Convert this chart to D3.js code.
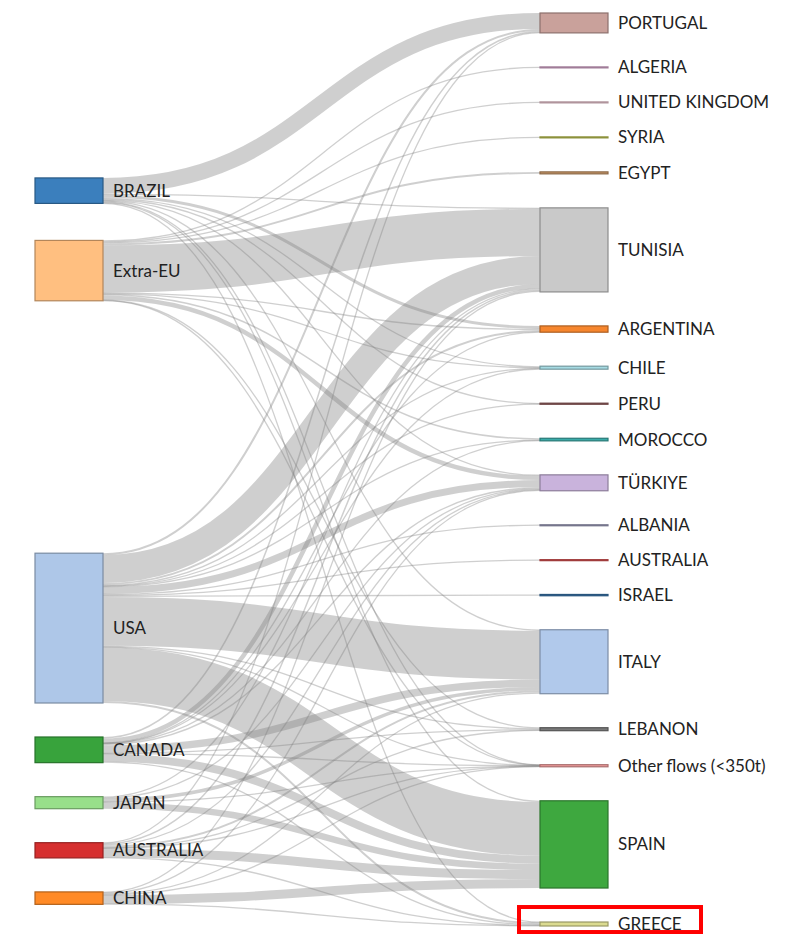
<!DOCTYPE html>
<html>
<head>
<meta charset="utf-8">
<script src="https://cdn.jsdelivr.net/npm/d3@7"></script>
<style>
  body { margin: 0; background: #fff; }
  svg text { font-family: Lato, "Open Sans", "DejaVu Sans", sans-serif; }
</style>
</head>
<body>
<svg id="chart" width="800" height="934"></svg>
<script>
// ---------- DATA ----------
const sources = ["BRAZIL", "Extra-EU", "USA", "CANADA", "JAPAN", "AUSTRALIA", "CHINA"];
const targets = ["PORTUGAL", "ALGERIA", "UNITED KINGDOM", "SYRIA", "EGYPT", "TUNISIA", "ARGENTINA",
  "CHILE", "PERU", "MOROCCO", "TÜRKIYE", "ALBANIA", "AUSTRALIA", "ISRAEL", "ITALY", "LEBANON",
  "Other flows (<350t)", "SPAIN", "GREECE"];

const sourceColors = ["#3b7fbd", "#ffbf80", "#aec7e8", "#38a33c", "#98df8a", "#d62f2f", "#ff8a26"];
const targetColors = ["#c9a19b", "#e5b1d9", "#fbd3df", "#c8cf56", "#c89667", "#c9c9c9", "#f6862e",
  "#a6dbe3", "#9d6464", "#39aba9", "#c9b3dc", "#a9a9c8", "#e55656", "#3979b3", "#b1c9eb", "#797979",
  "#f39d9d", "#3ea83f", "#dbdb90"];

// [source, target, tonnes]
const flows = [
  ["BRAZIL", "PORTUGAL", 16000], ["BRAZIL", "TUNISIA", 1000], ["BRAZIL", "ARGENTINA", 3000],
  ["BRAZIL", "CHILE", 1300], ["BRAZIL", "PERU", 800], ["BRAZIL", "TÜRKIYE", 800],
  ["BRAZIL", "ITALY", 1000], ["BRAZIL", "Other flows (<350t)", 300], ["BRAZIL", "SPAIN", 1200],
  ["BRAZIL", "GREECE", 200],

  ["Extra-EU", "ALGERIA", 1000], ["Extra-EU", "UNITED KINGDOM", 1000], ["Extra-EU", "SYRIA", 1000],
  ["Extra-EU", "EGYPT", 2000], ["Extra-EU", "TUNISIA", 47500], ["Extra-EU", "ARGENTINA", 1000],
  ["Extra-EU", "CHILE", 400], ["Extra-EU", "MOROCCO", 1500], ["Extra-EU", "TÜRKIYE", 4500],
  ["Extra-EU", "LEBANON", 500], ["Extra-EU", "Other flows (<350t)", 300],

  ["USA", "PORTUGAL", 2000], ["USA", "TUNISIA", 28000], ["USA", "ARGENTINA", 2000],
  ["USA", "CHILE", 1000], ["USA", "PERU", 300], ["USA", "MOROCCO", 800], ["USA", "TÜRKIYE", 7000],
  ["USA", "ALBANIA", 900], ["USA", "AUSTRALIA", 800], ["USA", "ISRAEL", 1300], ["USA", "ITALY", 49000],
  ["USA", "LEBANON", 1200], ["USA", "Other flows (<350t)", 300], ["USA", "SPAIN", 54000],
  ["USA", "GREECE", 2000],

  ["CANADA", "PORTUGAL", 1500], ["CANADA", "TUNISIA", 4500], ["CANADA", "ARGENTINA", 300],
  ["CANADA", "CHILE", 300], ["CANADA", "MOROCCO", 300], ["CANADA", "TÜRKIYE", 1300],
  ["CANADA", "ITALY", 7500], ["CANADA", "LEBANON", 800], ["CANADA", "Other flows (<350t)", 300],
  ["CANADA", "SPAIN", 8000], ["CANADA", "GREECE", 1000],

  ["JAPAN", "TUNISIA", 1000], ["JAPAN", "TÜRKIYE", 800], ["JAPAN", "ITALY", 3500],
  ["JAPAN", "Other flows (<350t)", 300], ["JAPAN", "SPAIN", 6500],

  ["AUSTRALIA", "PORTUGAL", 500], ["AUSTRALIA", "TUNISIA", 1500], ["AUSTRALIA", "TÜRKIYE", 1000],
  ["AUSTRALIA", "ITALY", 2000], ["AUSTRALIA", "LEBANON", 500], ["AUSTRALIA", "Other flows (<350t)", 300],
  ["AUSTRALIA", "SPAIN", 9000], ["AUSTRALIA", "GREECE", 500],

  ["CHINA", "TUNISIA", 1000], ["CHINA", "TÜRKIYE", 600], ["CHINA", "ITALY", 1300],
  ["CHINA", "Other flows (<350t)", 300], ["CHINA", "SPAIN", 9000], ["CHINA", "GREECE", 300]
];

// ---------- SANKEY LAYOUT (classic d3-sankey relaxation, input order kept) ----------
function sankeyLayout(nodes, links, o) {
  const { x0, y0, x1, y1, nodeWidth, nodePadding, iterations } = o;
  nodes.forEach((n, i) => { n.index = i; n.sourceLinks = []; n.targetLinks = []; });
  links.forEach((l, i) => { l.index = i; l.source.sourceLinks.push(l); l.target.targetLinks.push(l); });
  nodes.forEach(n => {
    n.value = Math.max(d3.sum(n.sourceLinks, l => l.value), d3.sum(n.targetLinks, l => l.value));
  });
  const nCols = d3.max(nodes, n => n.layer) + 1;
  const columns = d3.range(nCols).map(() => []);
  nodes.forEach(n => columns[n.layer].push(n));
  const xScale = d3.scaleLinear().domain([0, nCols - 1]).range([x0, x1 - nodeWidth]);
  nodes.forEach(n => { n.x0 = xScale(n.layer); n.x1 = n.x0 + nodeWidth; });

  const py = nodePadding;
  const ky = d3.min(columns, c => (y1 - y0 - (c.length - 1) * py) / d3.sum(c, n => n.value));
  const vScale = d3.scaleLinear().domain([0, 1]).range([0, ky]);
  columns.forEach(col => col.forEach((n, i) => { n.y0 = i; n.y1 = i + vScale(n.value); }));
  links.forEach(l => { l.width = vScale(l.value); });
  const center = n => (n.y0 + n.y1) / 2;

  function resolveCollisions() {
    for (const col of columns) {
      let y = y0, node, dy;
      for (let i = 0; i < col.length; i++) {
        node = col[i]; dy = y - node.y0;
        if (dy > 0) { node.y0 += dy; node.y1 += dy; }
        y = node.y1 + py;
      }
      dy = y - py - y1;
      if (dy > 0) {
        node = col[col.length - 1];
        node.y0 -= dy; node.y1 -= dy; y = node.y0;
        for (let i = col.length - 2; i >= 0; --i) {
          node = col[i]; dy = node.y1 + py - y;
          if (dy > 0) { node.y0 -= dy; node.y1 -= dy; }
          y = node.y0;
        }
      }
    }
  }
  resolveCollisions();
  let alpha = 1;
  for (let k = iterations; k > 0; --k) {
    alpha *= 0.99;
    for (const col of columns.slice().reverse()) {
      for (const n of col) {
        if (!n.sourceLinks.length) continue;
        const dy = (d3.sum(n.sourceLinks, l => center(l.target) * l.value) /
          d3.sum(n.sourceLinks, l => l.value) - center(n)) * alpha;
        n.y0 += dy; n.y1 += dy;
      }
    }
    resolveCollisions();
    for (const col of columns) {
      for (const n of col) {
        if (!n.targetLinks.length) continue;
        const dy = (d3.sum(n.targetLinks, l => center(l.source) * l.value) /
          d3.sum(n.targetLinks, l => l.value) - center(n)) * alpha;
        n.y0 += dy; n.y1 += dy;
      }
    }
    resolveCollisions();
  }
  for (const n of nodes) {
    n.sourceLinks.sort((a, b) => a.target.y0 - b.target.y0 || a.index - b.index);
    n.targetLinks.sort((a, b) => a.source.y0 - b.source.y0 || a.index - b.index);
    let a = n.y0, b = n.y0;
    for (const l of n.sourceLinks) { l.y0 = a + l.width / 2; a += l.width; }
    for (const l of n.targetLinks) { l.y1 = b + l.width / 2; b += l.width; }
  }
}

// ---------- BUILD ----------
const srcNodes = sources.map((name, i) => ({ name, layer: 0, color: sourceColors[i] }));
const tgtNodes = targets.map((name, i) => ({ name, layer: 1, color: targetColors[i] }));
const nodes = srcNodes.concat(tgtNodes);
const links = flows.map(([s, t, v]) => ({
  source: srcNodes[sources.indexOf(s)],
  target: tgtNodes[targets.indexOf(t)],
  value: v
}));

sankeyLayout(nodes, links, { x0: 35, y0: 13, x1: 608, y1: 926, nodeWidth: 68, nodePadding: 34, iterations: 32 });

const svg = d3.select("#chart");

svg.append("g")
  .attr("fill", "none")
  .selectAll("path")
  .data(links)
  .join("path")
  .attr("d", d3.linkHorizontal()
    .source(d => [d.source.x1, d.y0])
    .target(d => [d.target.x0, d.y1]))
  .attr("stroke", "#808080")
  .attr("stroke-opacity", 0.38)
  .attr("stroke-width", d => Math.max(1.3, d.width));

svg.append("g")
  .selectAll("rect")
  .data(nodes)
  .join("rect")
  .attr("x", d => d.x0)
  .attr("y", d => d.y0)
  .attr("width", d => d.x1 - d.x0)
  .attr("height", d => Math.max(1, d.y1 - d.y0))
  .attr("fill", d => d.color)
  .attr("stroke", d => d3.rgb(d.color).darker(1))
  .attr("stroke-width", 1.2);

svg.append("g")
  .selectAll("text")
  .data(nodes)
  .join("text")
  .attr("x", d => d.x1 + 10)
  .attr("y", d => (d.y0 + d.y1) / 2)
  .attr("dy", "0.35em")
  .attr("font-size", 17)
  .attr("fill", "#222")
  .text(d => d.name);

// highlight box around GREECE
const greece = tgtNodes[targets.indexOf("GREECE")];
svg.append("rect")
  .attr("x", greece.x0 - 21)
  .attr("y", greece.y0 - 15)
  .attr("width", 182)
  .attr("height", 25)
  .attr("fill", "none")
  .attr("stroke", "#ff0000")
  .attr("stroke-width", 4);
</script>
</body>
</html>
